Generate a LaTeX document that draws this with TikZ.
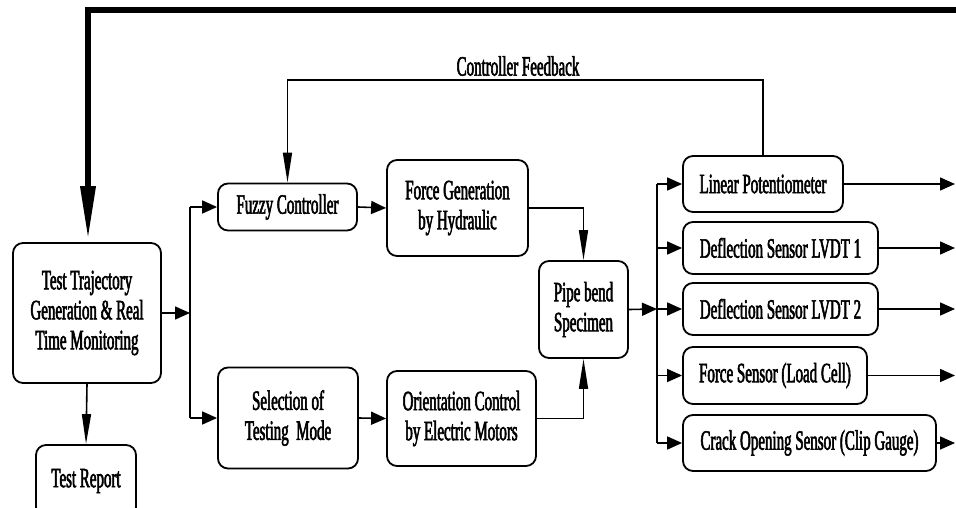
\documentclass[tikz,border=0pt]{standalone}
\usepackage{fontspec}
\setmainfont{Liberation Serif}[FakeStretch=0.535,FakeBold=2]
\usetikzlibrary{arrows.meta}
\begin{document}
\begin{tikzpicture}[x=1pt,y=-1pt,
  box/.style={draw, line width=1.8pt, rounded corners=10pt, align=center,
    inner sep=0pt, font=\fontsize{28}{30}\selectfont},
  conn/.style={line width=1.6pt},
  harr/.style={conn, -{Triangle[length=15pt,width=13pt]}},
  varr/.style={conn, -{Triangle[length=30pt,width=9pt]}},
  thickarr/.style={line width=6.5pt, -{Triangle[length=56pt,width=14pt]}},
  lbl/.style={font=\fontsize{28}{30}\selectfont, inner sep=0pt}]
\useasboundingbox (0,0) rectangle (956,508);
% nodes
\node[box, minimum width=148pt, minimum height=140pt] (tt) at (87,313)
  {Test Trajectory\\Generation \& Real\\Time Monitoring};
\node[box, minimum width=100pt, minimum height=72pt] (rep) at (86,481) {\raisebox{3pt}{Test Report}};
\node[box, minimum width=139pt, minimum height=47pt] (fuzzy) at (287.5,207) {Fuzzy Controller};
\node[box, minimum width=140pt, minimum height=101pt] (sel) at (288,418) {Selection of\\Testing~ Mode};
\node[box, minimum width=141pt, minimum height=96pt] (force) at (457.5,208) {Force Generation\\by Hydraulic};
\node[box, minimum width=149pt, minimum height=95pt] (orient) at (461.5,418.5) {Orientation Control\\by Electric Motors};
\node[box, minimum width=89pt, minimum height=97pt] (pipe) at (583.5,309.5) {Pipe bend\\Specimen};
\node[box, minimum width=160pt, minimum height=56pt] (lp) at (763,184) {Linear Potentiometer};
\node[box, minimum width=195pt, minimum height=52pt] (l1) at (780.5,248) {Deflection Sensor LVDT 1};
\node[box, minimum width=195pt, minimum height=52pt] (l2) at (780.5,309) {Deflection Sensor LVDT 2};
\node[box, minimum width=184pt, minimum height=57pt] (fs) at (775,375.5) {Force Sensor (Load Cell)};
\node[box, minimum width=253pt, minimum height=56pt] (cr) at (809.5,443) {Crack Opening Sensor (Clip Gauge)};
\node[lbl] (fbl) at (518,66) {Controller Feedback};
% coordinates
\coordinate (sp1) at (190,313);
\coordinate (sp2) at (657,309);
\coordinate (top) at (956,10);
\coordinate (fbtop) at (525,80);
\coordinate (o1) at (955,184);
\coordinate (o2) at (955,248);
\coordinate (o3) at (955,309);
\coordinate (o4) at (955,375.5);
\coordinate (o5) at (955,443);
% thick feedback
\draw[thickarr] (top) -| ([xshift=1pt]tt.north);
% connectors
\draw[varr] (tt.south) -- (rep.north);
\draw[harr] (tt.east) -- (sp1);
\draw[conn] (sp1 |- fuzzy.west) -- (sp1 |- sel.west);
\draw[harr] (sp1 |- fuzzy.west) -- (fuzzy.west);
\draw[harr] (sp1 |- sel.west) -- (sel.west);
\draw[harr] (fuzzy.east) -- (force.west);
\draw[harr] (sel.east) -- (orient.west);
\draw[varr] (force.east) -| (pipe.north);
\draw[varr] (orient.east) -| (pipe.south);
\draw[harr] (pipe.east) -- (sp2);
\draw[conn] (sp2 |- lp.west) -- (sp2 |- cr.west);
\draw[harr] (sp2 |- lp.west) -- (lp.west);
\draw[harr] (sp2 |- l1.west) -- (l1.west);
\draw[harr] (sp2 |- l2.west) -- (l2.west);
\draw[harr] (sp2 |- fs.west) -- (fs.west);
\draw[harr] (sp2 |- cr.west) -- (cr.west);
\draw[harr] (lp.east) -- (o1);
\draw[harr] (l1.east) -- (o2);
\draw[harr] (l2.east) -- (o3);
\draw[harr] (fs.east) -- (o4);
\draw[harr] (cr.east) -- (o5);
\draw[varr] (lp.north) |- (fbtop) -| (fuzzy.north);
\end{tikzpicture}
\end{document}
